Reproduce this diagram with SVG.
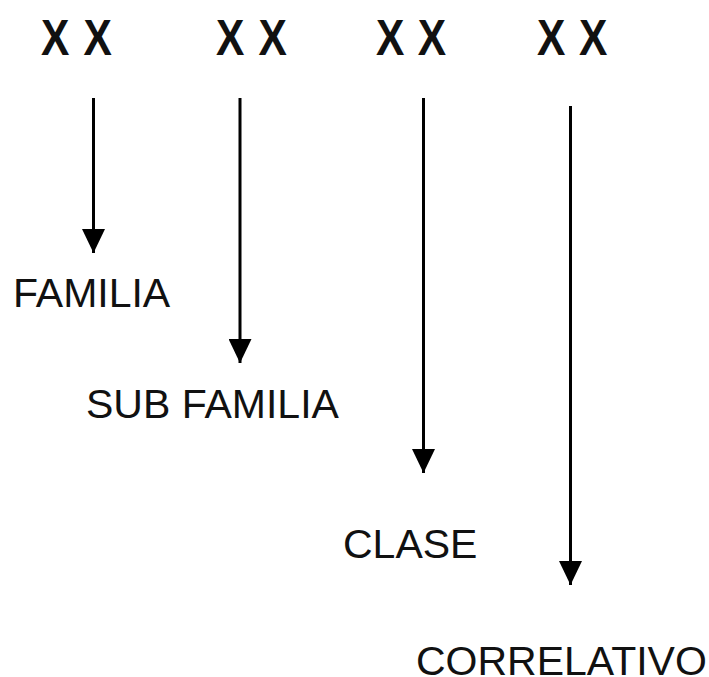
<svg xmlns="http://www.w3.org/2000/svg" width="709" height="677" viewBox="0 0 709 677">
  <style>
    .code { font-family: "Liberation Sans", Arial, sans-serif; font-size: 50px; font-weight: bold; fill: #111; }
    .label { font-family: "Liberation Sans", Arial, sans-serif; font-size: 41px; fill: #111; }
    .link { stroke: #000; stroke-width: 3; fill: none; marker-end: url(#head); }
  </style>
  <defs>
    <marker id="head" markerUnits="userSpaceOnUse" markerWidth="24" markerHeight="23" viewBox="0 0 24 23" refX="24" refY="11.5" orient="auto">
      <path d="M0,0 L24,11.5 L0,23 z" fill="#000"/>
    </marker>
  </defs>
  <rect width="709" height="677" fill="#fff"/>

  <!-- code digit pairs -->
  <g id="code-familia"><text class="code" transform="translate(41,55) scale(0.85,1)" x="0 50">XX</text></g>
  <g id="code-subfamilia"><text class="code" transform="translate(216,55) scale(0.85,1)" x="0 50">XX</text></g>
  <g id="code-clase"><text class="code" transform="translate(376,55) scale(0.85,1)" x="0 49">XX</text></g>
  <g id="code-correlativo"><text class="code" transform="translate(537,55) scale(0.85,1)" x="0 49.5">XX</text></g>

  <!-- meaning of each pair -->
  <g id="label-familia"><text class="label" x="13" y="307">FAMILIA</text></g>
  <g id="label-subfamilia"><text class="label" x="86" y="418">SUB FAMILIA</text></g>
  <g id="label-clase"><text class="label" x="343" y="558">CLASE</text></g>
  <g id="label-correlativo"><text class="label" x="416" y="675">CORRELATIVO</text></g>

  <!-- arrows from each pair down to its label -->
  <g id="connectors">
    <line class="link" x1="93.5" y1="98" x2="93.5" y2="253"/>
    <line class="link" x1="240" y1="98" x2="240" y2="363"/>
    <line class="link" x1="423.5" y1="98" x2="423.5" y2="473"/>
    <line class="link" x1="570.5" y1="106" x2="570.5" y2="585"/>
  </g>
</svg>
